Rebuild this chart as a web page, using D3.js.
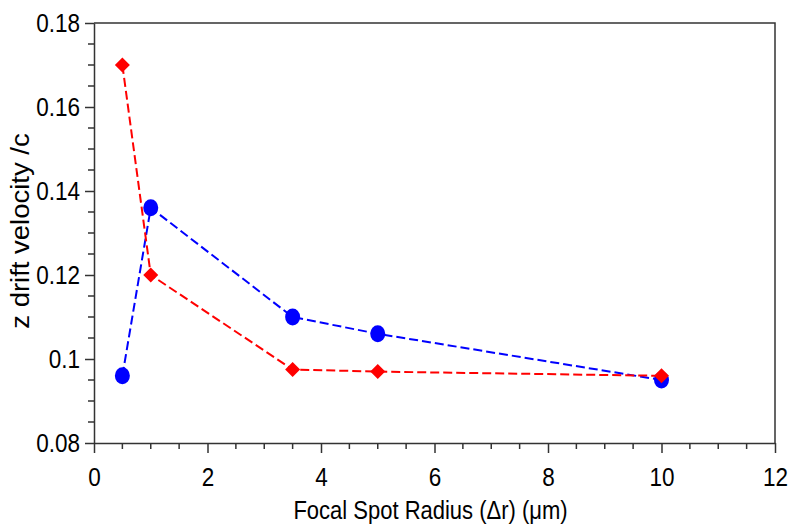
<!DOCTYPE html>
<html>
<head>
<meta charset="utf-8">
<script src="https://cdn.jsdelivr.net/npm/d3@7"></script>
<style>
  html, body { margin: 0; padding: 0; background: #fff; overflow: hidden; }
  #svg-container { width: 789px; height: 526px; }
  svg { display: block; }
  svg text { font-family: Arial, "Liberation Sans", sans-serif; fill: #000; }
</style>
</head>
<body>
<div id="svg-container"></div>
<script>
// data
const radius = [0.5, 1, 3.5, 5, 10]
const blueVelocity = [0.096, 0.136, 0.110, 0.106, 0.095]
const redVelocity = [0.170, 0.120, 0.0975, 0.097, 0.096]
const xTicks = [0, 2, 4, 6, 8, 10, 12]
const yTicks = [0.08, 0.1, 0.12, 0.14, 0.16, 0.18]
const xLabel = 'Focal Spot Radius (\u0394r) (\u03bcm)'
const yLabel = 'z drift velocity /c'

const width = 789
const height = 526
const margin = { top: 23, right: 14, bottom: 83, left: 94 }
const innerWidth = width - margin.left - margin.right
const innerHeight = height - margin.top - margin.bottom

const svg = d3.select('#svg-container')
    .append('svg').attr('width', width).attr('height', height)

const g = svg.append('g')
    .attr('transform', `translate(${margin.left}, ${margin.top})`)

const xScale = d3.scaleLinear().domain([0, 12]).range([0, innerWidth])
const yScale = d3.scaleLinear().domain([0.08, 0.18]).range([innerHeight, 0])

//kader rechts en boven
g.append('path')
    .attr('d', `M0,0H${innerWidth}V${innerHeight}`)
    .attr('fill', 'none')
    .attr('stroke', '#333')
    .attr('stroke-width', 1.5)

//minor ticks (zonder tekst)
const xMinor = d3.range(0, 12.01, 0.5).filter(v => !xTicks.includes(v))
const yMinor = d3.range(0.08, 0.1801, 0.005).filter(v => !yTicks.some(t => Math.abs(t - v) < 1e-9))

g.append('g').selectAll('line').data(xMinor).enter().append('line')
    .attr('x1', d => xScale(d)).attr('x2', d => xScale(d))
    .attr('y1', innerHeight).attr('y2', innerHeight + 6)
g.append('g').selectAll('line').data(yMinor).enter().append('line')
    .attr('x1', -6).attr('x2', 0)
    .attr('y1', d => yScale(d)).attr('y2', d => yScale(d))
g.selectAll('line').attr('stroke', '#333').attr('stroke-width', 1.5)

const xAxisG = g.append('g')
    .attr('transform', `translate(0, ${innerHeight})`)
    .call(d3.axisBottom(xScale).tickValues(xTicks).tickSize(10).tickPadding(15).tickSizeOuter(0).tickFormat(d3.format('d')))
const yAxisG = g.append('g')
    .call(d3.axisLeft(yScale).tickValues(yTicks).tickSize(9).tickPadding(5).tickSizeOuter(0).tickFormat(d => String(+d.toFixed(2))))

g.selectAll('.tick line').attr('stroke', '#333').attr('stroke-width', 1.5)
g.selectAll('.domain').attr('stroke', '#333').attr('stroke-width', 1.5)
g.selectAll('.tick text').attr('font-size', 25).attr('font-family', null).attr('fill', '#000')

//letters iets smaller zoals in het origineel
xAxisG.selectAll('.tick text').attr('transform', 'scale(0.9,1)')
yAxisG.selectAll('.tick text').attr('x', -14 / 0.9).attr('transform', 'scale(0.9,1)')

//as titels
svg.append('text')
    .attr('transform', `translate(${margin.left + innerWidth / 2 - 4}, 519) scale(0.88,1)`)
    .attr('text-anchor', 'middle')
    .attr('font-size', 25)
    .text(xLabel)

svg.append('text')
    .attr('transform', 'translate(29, 231) rotate(-90) scale(1.1,1)')
    .attr('text-anchor', 'middle')
    .attr('font-size', 25)
    .text(yLabel)

//lijnen en markers
const series = [
    { name: 'blue', color: '#0000ff', values: blueVelocity, shape: 'circle' },
    { name: 'red', color: '#ff0000', values: redVelocity, shape: 'diamond' }
]

const line = d3.line()
    .x((d, i) => xScale(radius[i]))
    .y(d => yScale(d))

series.forEach(s => {
    g.append('path')
        .datum(s.values)
        .attr('d', line)
        .attr('fill', 'none')
        .attr('stroke', s.color)
        .attr('stroke-width', 2)
        .attr('stroke-dasharray', '9,4')
})

series.forEach(s => {
    const pts = g.append('g').selectAll('.pt').data(s.values).enter()
    if (s.shape === 'circle') {
        pts.append('ellipse')
            .attr('cx', (d, i) => xScale(radius[i]))
            .attr('cy', d => yScale(d))
            .attr('rx', 7.5)
            .attr('ry', 8.5)
            .attr('fill', s.color)
    } else {
        pts.append('path')
            .attr('transform', (d, i) => `translate(${xScale(radius[i])}, ${yScale(d)})`)
            .attr('d', 'M0,-7.5L7.5,0L0,7.5L-7.5,0Z')
            .attr('fill', s.color)
    }
})
</script>
</body>
</html>
